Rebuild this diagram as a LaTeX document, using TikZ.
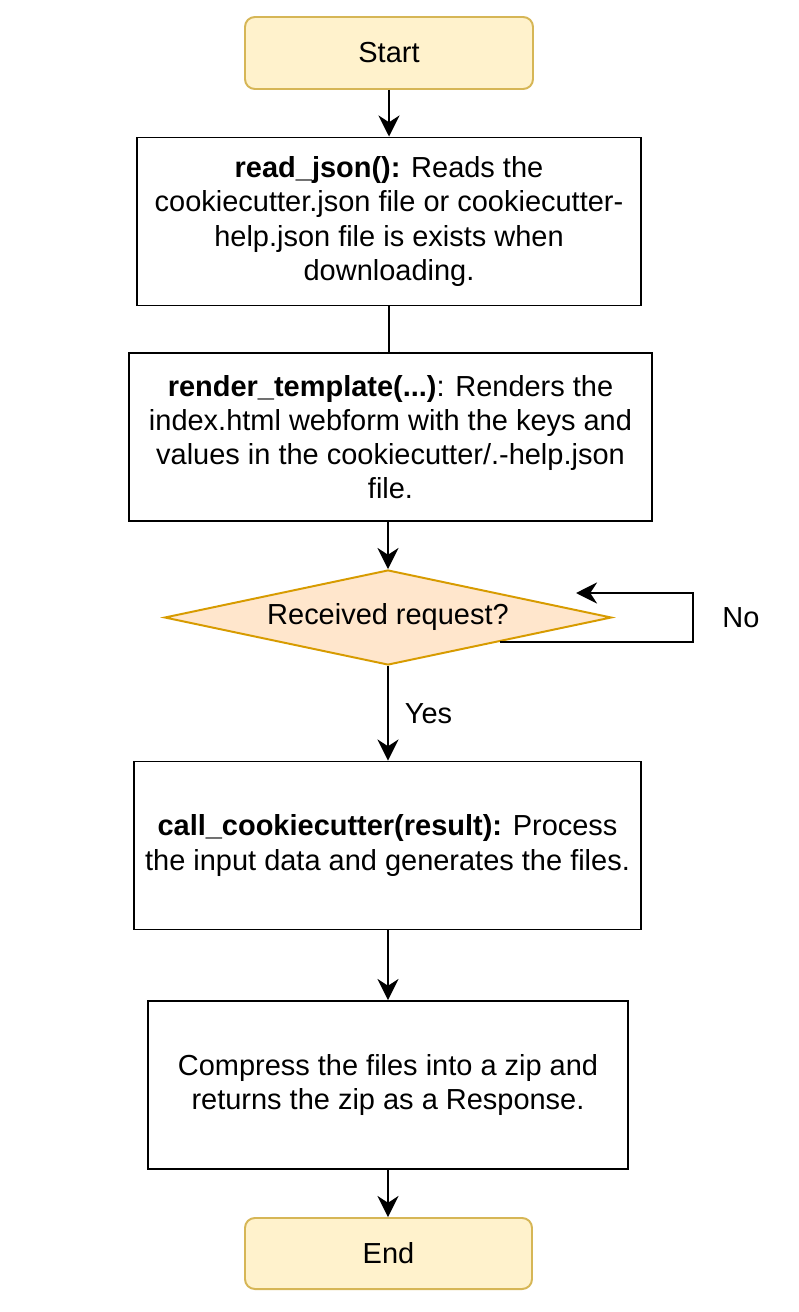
\documentclass[tikz,border=0pt]{standalone}
\usepackage{fontspec}
\setmainfont{Liberation Sans}
\usetikzlibrary{shapes.geometric,arrows.meta}
\definecolor{termfill}{HTML}{FFF2CC}
\definecolor{termline}{HTML}{D6B656}
\definecolor{decfill}{HTML}{FFE6CC}
\definecolor{decline}{HTML}{D79B00}

\begin{document}
\begin{tikzpicture}[x=0.025cm, y=-0.025cm, >={Stealth[length=15pt,width=15pt]},
    every node/.style={font=\fontsize{20.6pt}{24.2pt}\selectfont, align=center},
    terminal/.style={draw=termline, fill=termfill, line width=1.4pt, rounded corners=7pt,
        minimum width=288*\pxu, minimum height=72*\pxu},
    process/.style={draw, fill=white, line width=1.4pt, inner xsep=2pt, minimum height=168*\pxu},
    decision/.style={diamond, draw=decline, fill=decfill, line width=1.4pt, aspect=4.7,
        inner sep=0pt, minimum width=447*\pxu, minimum height=95*\pxu},
    arrow/.style={->, line width=1.4pt}]
    \def\pxu{0.025cm} % one pixel of the reference

    \useasboundingbox (0,0) rectangle (798,1312);

    % Nodes
    \node[terminal] (start) at (389,53) {Start};
    \node[process, minimum width=504*\pxu] (read) at (389,221.5)
        {\textbf{read\_json():} Reads the\\cookiecutter.json file or cookiecutter-\\help.json file is exists when\\downloading.};
    % arrow tip sits under the next box
    \coordinate (readin) at (389,373);
    \draw[arrow] (read.south) -- (readin);
    \node[process, minimum width=523*\pxu] (render) at (390.5,437)
        {\textbf{render\_template(...)}: Renders the\\index.html webform with the keys and\\values in the cookiecutter/.-help.json\\file.};
    \node[decision] (received) at (388,617.5) {Received request?};
    \node[process, minimum width=507*\pxu] (call) at (387.5,845.5)
        {\textbf{call\_cookiecutter(result):} Process\\the input data and generates the files.};
    \node[process, minimum width=480*\pxu] (compress) at (388,1085)
        {Compress the files into a zip and\\returns the zip as a Response.};
    \node[terminal, minimum width=287*\pxu, minimum height=71*\pxu] (end) at (388.5,1253.5) {End};

    % Connectors
    \draw[arrow] (start) -- (read);
    \draw[arrow] (received.north |- render.south) -- (received.north);
    \draw[arrow] (received.south) -- (received.south |- call.north)
        node[midway, right=8pt] (yes) {Yes};
    \draw[arrow] (received.south |- call.south) -- (received.south |- compress.north);
    \draw[arrow] (compress.south) -- (compress.south |- end.north);

    % No loop
    \coordinate (nobend) at (693,593);
    \coordinate (noend) at (576,593);
    \draw[arrow] (received.south east) -| (nobend) -- (noend);
    \node (no) at (741,618) {No};
\end{tikzpicture}
\end{document}
